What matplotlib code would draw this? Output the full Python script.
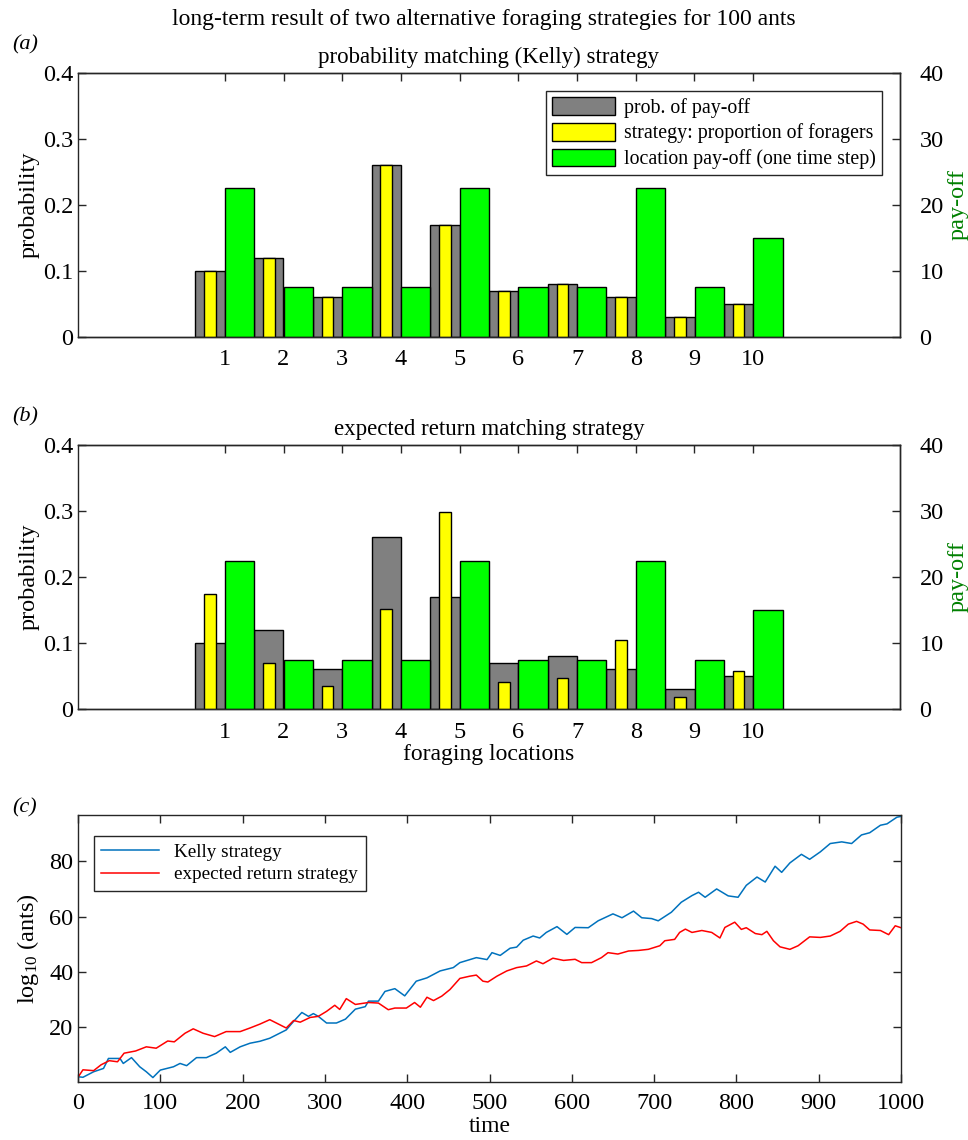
import matplotlib
matplotlib.use("Agg")
import matplotlib.pyplot as plt
from matplotlib.patches import Patch

plt.rcParams["font.family"] = ["Liberation Serif", "DejaVu Serif"]
plt.rcParams["mathtext.fontset"] = "custom"
plt.rcParams["mathtext.rm"] = "Liberation Serif"
plt.rcParams["mathtext.it"] = "Liberation Serif:italic"

# ── data ────────────────────────────────────────────────────────────────────
locations = [1, 2, 3, 4, 5, 6, 7, 8, 9, 10]
prob_payoff = [0.10, 0.12, 0.06, 0.26, 0.17, 0.07, 0.08, 0.06, 0.03, 0.05]
kelly_share = [0.10, 0.12, 0.06, 0.26, 0.17, 0.07, 0.08, 0.06, 0.03, 0.05]
exp_share = [0.175, 0.070, 0.035, 0.152, 0.298, 0.041, 0.047, 0.105, 0.018, 0.058]
payoff = [22.5, 7.5, 7.5, 7.5, 22.5, 7.5, 7.5, 22.5, 7.5, 15.0]

t_kelly = [0, 6, 19, 31, 37, 51, 55, 65, 75, 83, 91, 100, 108, 116, 124, 132,
           144, 156, 168, 179, 185, 197, 209, 221, 233, 245, 253, 262, 272, 280,
           286, 292, 302, 314, 325, 337, 349, 353, 365, 373, 385, 397, 411, 424,
           440, 456, 464, 484, 497, 503, 513, 525, 533, 541, 553, 561, 569, 582,
           594, 604, 620, 632, 650, 661, 675, 685, 697, 705, 721, 733, 746, 754,
           762, 776, 790, 802, 812, 825, 835, 847, 855, 865, 879, 889, 902, 914,
           928, 940, 952, 962, 975, 983, 995, 1000]
v_kelly = [2.2, 2.0, 4.0, 5.2, 8.8, 8.8, 7.0, 9.1, 5.8, 4.0, 1.9, 4.6, 5.2, 5.8,
           7.0, 6.2, 9.1, 9.1, 10.7, 13.0, 11.0, 13.0, 14.3, 15.0, 16.1, 17.9,
           19.1, 22.2, 25.4, 24.0, 25.0, 24.0, 21.6, 21.6, 23.0, 26.6, 27.5,
           29.5, 29.5, 33.0, 34.0, 31.4, 36.7, 37.9, 40.4, 41.6, 43.4, 45.2,
           44.5, 47.0, 46.0, 48.6, 49.0, 51.5, 53.0, 52.3, 54.3, 56.4, 53.6,
           56.1, 56.0, 58.5, 61.0, 59.6, 62.0, 59.6, 59.3, 58.5, 61.6, 65.2,
           67.6, 68.8, 67.0, 70.0, 67.5, 67.0, 71.3, 74.3, 72.5, 78.2, 76.0,
           79.4, 82.5, 80.7, 83.4, 86.4, 87.0, 86.4, 89.5, 90.3, 93.0, 93.5,
           95.9, 96.2]

t_exp = [0, 6, 19, 28, 38, 48, 56, 70, 83, 95, 109, 117, 130, 140, 152, 166,
         180, 197, 209, 221, 233, 245, 253, 262, 270, 282, 292, 302, 312, 318,
         326, 337, 353, 365, 377, 385, 399, 409, 416, 424, 432, 442, 452, 464,
         476, 484, 492, 498, 509, 521, 533, 545, 557, 565, 577, 590, 604, 612,
         624, 636, 644, 656, 669, 681, 693, 707, 713, 725, 731, 738, 746, 758,
         770, 780, 786, 798, 806, 812, 823, 831, 837, 845, 853, 865, 875, 889,
         902, 914, 926, 936, 946, 954, 962, 975, 985, 993, 1000]
v_exp = [2.0, 4.7, 4.4, 6.5, 8.0, 7.6, 10.7, 11.5, 13.0, 12.5, 15.1, 14.8, 17.9,
         19.5, 17.9, 16.7, 18.5, 18.5, 19.8, 21.2, 22.8, 21.0, 19.8, 22.5, 21.9,
         23.6, 24.0, 25.8, 28.0, 26.5, 30.4, 28.3, 29.0, 28.8, 26.4, 27.0, 27.0,
         29.0, 27.3, 30.9, 29.7, 31.3, 33.7, 37.7, 38.5, 38.9, 36.7, 36.4, 38.5,
         40.4, 41.6, 42.2, 44.0, 43.0, 45.0, 44.2, 44.6, 43.4, 43.4, 45.2, 47.0,
         46.5, 47.6, 47.8, 48.2, 49.5, 51.3, 51.8, 54.3, 55.5, 54.3, 55.0, 54.3,
         52.3, 56.1, 58.0, 55.4, 56.0, 53.9, 53.5, 54.7, 51.3, 49.1, 48.2, 49.5,
         52.7, 52.5, 53.0, 54.7, 57.3, 58.3, 57.3, 55.2, 55.0, 53.5, 56.7, 56.0]

GREY = "#808080"
YELLOW = "#FFFF00"
GREEN = "#00FF00"
DKGREEN = "#008000"
SPINE = "#262626"
FS = 17.5


def style_axis(ax):
    for s in ax.spines.values():
        s.set_color(SPINE)
        s.set_linewidth(1.0)
    ax.tick_params(direction="in", length=6, width=1.0, colors=SPINE,
                   labelcolor="black", labelsize=FS)


def bar_panel(rect, share, title, xlabel=None, legend=False):
    ax = fig.add_axes(rect)
    gx = [i - 0.25 for i in locations]
    ax.bar(gx, prob_payoff, width=0.5, color=GREY, edgecolor="black",
           linewidth=1.0, zorder=2)
    ax.bar(gx, share, width=0.2, color=YELLOW, edgecolor="black",
           linewidth=1.0, zorder=3)
    ax.set_xlim(-1.5, 12.5)
    ax.set_ylim(0, 0.4)
    ax.set_xticks(locations)
    ax.set_yticks([0, 0.1, 0.2, 0.3, 0.4])
    ax.set_yticklabels(["0", "0.1", "0.2", "0.3", "0.4"])
    ax.set_ylabel("probability", fontsize=FS, labelpad=2)
    ax.tick_params(top=True, right=False)
    style_axis(ax)
    ax.tick_params(axis="x", pad=9)
    ax.set_title(title, fontsize=16.5, pad=7)
    if xlabel:
        ax.set_xlabel(xlabel, fontsize=17, labelpad=1)

    ax2 = ax.twinx()
    rx = [i + 0.25 for i in locations]
    ax2.bar(rx, payoff, width=0.5, color=GREEN, edgecolor="black",
            linewidth=1.0, zorder=2)
    ax2.set_ylim(0, 40)
    ax2.set_yticks([0, 10, 20, 30, 40])
    ax2.set_ylabel("pay-off", color=DKGREEN, fontsize=FS, labelpad=3)
    style_axis(ax2)
    ax2.tick_params(axis="y", pad=14)
    ax2.spines["left"].set_visible(False)

    if legend:
        handles = [Patch(facecolor=GREY, edgecolor="black"),
                   Patch(facecolor=YELLOW, edgecolor="black"),
                   Patch(facecolor=GREEN, edgecolor="black")]
        labels = ["prob. of pay-off", "strategy: proportion of foragers",
                  "location pay-off (one time step)"]
        lg = ax2.legend(handles, labels, loc="upper right",
                        bbox_to_anchor=(0.978, 0.932), borderaxespad=0,
                        fontsize=14.3, fancybox=False, edgecolor=SPINE,
                        framealpha=1, handlelength=3.2, handleheight=1.0,
                        borderpad=0.3, labelspacing=0.26, handletextpad=0.45)
        lg.get_frame().set_linewidth(1.0)
    return ax


fig = plt.figure(figsize=(9.68, 11.40), dpi=100)

fig.text(0.5, 1 - 20 / 1140, "long-term result of two alternative foraging strategies for 100 ants",
         ha="center", va="center", fontsize=17)

bar_panel([78 / 968, 1 - 337 / 1140, 822 / 968, 264 / 1140], kelly_share,
          "probability matching (Kelly) strategy", legend=True)
bar_panel([78 / 968, 1 - 709 / 1140, 822 / 968, 264 / 1140], exp_share,
          "expected return matching strategy", xlabel="foraging locations")

# panel (c)
axc = fig.add_axes([78 / 968, 1 - 1082 / 1140, 823 / 968, 267 / 1140])
axc.plot(t_kelly, v_kelly, color="#0072BD", linewidth=1.1, label="Kelly strategy")
axc.plot(t_exp, v_exp, color="#FF0000", linewidth=1.1, label="expected return strategy")
axc.set_xlim(0, 1000)
axc.set_ylim(0.3, 96.7)
axc.set_xticks(range(0, 1001, 100))
axc.set_yticks([20, 40, 60, 80])
axc.tick_params(top=True, right=True)
style_axis(axc)
axc.tick_params(axis="x", pad=8)
axc.set_xlabel("time", fontsize=17, labelpad=1)
axc.set_ylabel("log$_{10}$ (ants)", fontsize=FS, labelpad=6)
lgc = axc.legend(loc="upper left", bbox_to_anchor=(0.019, 0.921), borderaxespad=0,
                 fontsize=13.8, fancybox=False, edgecolor=SPINE, framealpha=1,
                 handlelength=3.0, borderpad=0.4, labelspacing=0.25)
lgc.get_frame().set_linewidth(1.0)

for lab, y in [("(a)", 45), ("(b)", 417), ("(c)", 808)]:
    fig.text(12 / 968, 1 - y / 1140, lab, fontsize=16, style="italic",
             ha="left", va="center")

fig.savefig("out.png", dpi=100)
